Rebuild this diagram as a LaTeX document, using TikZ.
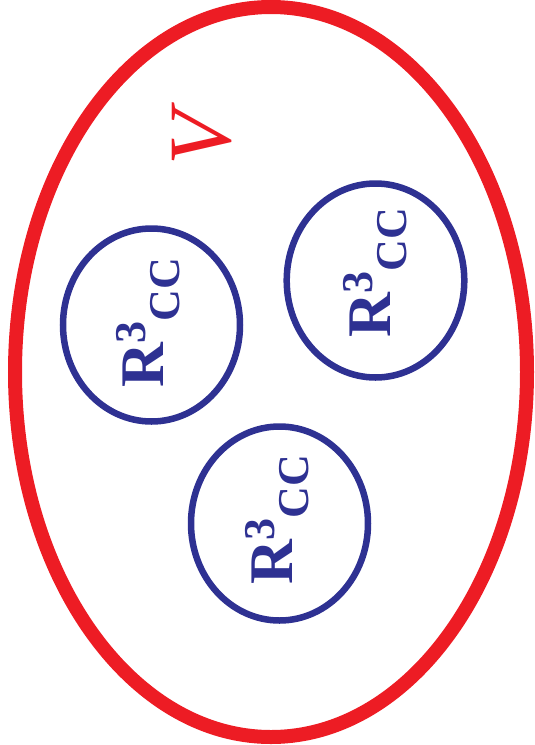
\documentclass[tikz,border=0pt]{standalone}
\usepackage{fontspec}
\setmainfont{Liberation Serif}
\definecolor{vred}{HTML}{ED1C24}
\definecolor{rblue}{HTML}{2E3192}
\newcommand{\rcclabel}{{\fontsize{62}{62}\selectfont\bfseries R\raisebox{18pt}{\fontsize{44}{44}\selectfont 3}\raisebox{-16pt}{\fontsize{44}{44}\selectfont CC}}}
\tikzset{
  outerset/.style={draw=vred, line width=14pt},
  innerset/.style={draw=rblue, line width=6.5pt},
  rcc/.style={text=rblue, rotate=90, inner sep=0pt, anchor=base west},
  vlabel/.style={text=vred, rotate=90, inner sep=0pt, anchor=center, font=\fontsize{89}{89}\selectfont\itshape}
}
\begin{document}
\begin{tikzpicture}[x=1pt,y=-1pt]
\useasboundingbox (0,0) rectangle (535,745);
\draw[outerset] (271,372) ellipse [x radius=256, y radius=365];
\draw[innerset] (151.5,325) ellipse [x radius=88.5, y radius=96.5];
\draw[innerset] (375.5,280.5) ellipse [x radius=88.8, y radius=97];
\draw[innerset] (279.5,523.5) ellipse [x radius=88.5, y radius=97];
\node[rcc] (t1) at (163,388) {\rcclabel};
\node[rcc] (t2) at (390,338) {\rcclabel};
\node[rcc] (t3) at (292,585) {\rcclabel};
\node[vlabel] (v) at (202,138) {V};
\end{tikzpicture}
\end{document}
